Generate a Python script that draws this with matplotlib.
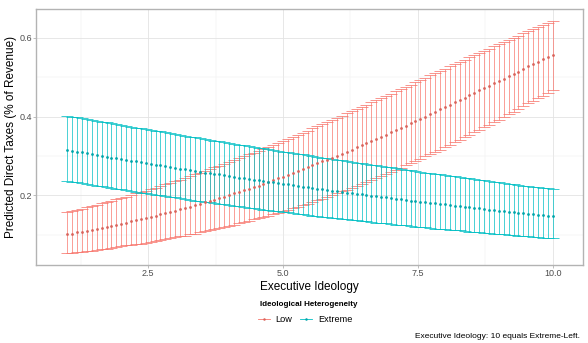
import numpy as np
import matplotlib
matplotlib.use("Agg")
import matplotlib.pyplot as plt
from matplotlib.lines import Line2D

plt.rcParams['font.family'] = ['Liberation Sans', 'DejaVu Sans']

# executive ideology grid (100 evaluation points between 1 and 10)
ideology = np.linspace(1, 10, 100)

low_mean = [
    0.101, 0.103, 0.106, 0.108, 0.110, 0.113, 0.115, 0.118, 0.120, 0.123,
    0.125, 0.128, 0.131, 0.134, 0.137, 0.139, 0.142, 0.145, 0.148, 0.152,
    0.155, 0.158, 0.161, 0.165, 0.168, 0.171, 0.175, 0.178, 0.182, 0.186,
    0.189, 0.193, 0.197, 0.201, 0.205, 0.209, 0.213, 0.217, 0.221, 0.225,
    0.230, 0.234, 0.238, 0.243, 0.247, 0.252, 0.257, 0.261, 0.266, 0.271,
    0.276, 0.281, 0.286, 0.290, 0.296, 0.301, 0.306, 0.311, 0.316, 0.322,
    0.327, 0.332, 0.338, 0.343, 0.349, 0.354, 0.360, 0.366, 0.371, 0.377,
    0.383, 0.389, 0.394, 0.400, 0.406, 0.412, 0.418, 0.424, 0.430, 0.436,
    0.442, 0.448, 0.454, 0.460, 0.466, 0.472, 0.478, 0.484, 0.490, 0.496,
    0.502, 0.508, 0.514, 0.521, 0.527, 0.533, 0.539, 0.545, 0.551, 0.557]
low_upper = [
    0.157, 0.160, 0.163, 0.166, 0.170, 0.173, 0.176, 0.180, 0.183, 0.186,
    0.190, 0.194, 0.197, 0.201, 0.205, 0.208, 0.212, 0.216, 0.220, 0.224,
    0.228, 0.232, 0.236, 0.240, 0.244, 0.249, 0.253, 0.257, 0.262, 0.266,
    0.271, 0.275, 0.280, 0.284, 0.289, 0.294, 0.299, 0.304, 0.308, 0.313,
    0.318, 0.323, 0.328, 0.333, 0.338, 0.344, 0.349, 0.354, 0.359, 0.364,
    0.370, 0.375, 0.381, 0.386, 0.391, 0.397, 0.402, 0.408, 0.413, 0.419,
    0.424, 0.430, 0.436, 0.441, 0.447, 0.453, 0.458, 0.464, 0.470, 0.476,
    0.481, 0.487, 0.493, 0.498, 0.504, 0.510, 0.516, 0.521, 0.527, 0.533,
    0.538, 0.544, 0.550, 0.555, 0.561, 0.567, 0.572, 0.578, 0.583, 0.589,
    0.595, 0.600, 0.605, 0.611, 0.616, 0.622, 0.627, 0.633, 0.638, 0.643]
low_lower = [
    0.053, 0.054, 0.056, 0.057, 0.059, 0.060, 0.062, 0.064, 0.065, 0.067,
    0.069, 0.071, 0.073, 0.074, 0.076, 0.078, 0.080, 0.082, 0.085, 0.087,
    0.089, 0.091, 0.094, 0.096, 0.098, 0.101, 0.103, 0.106, 0.109, 0.111,
    0.114, 0.117, 0.120, 0.123, 0.126, 0.129, 0.132, 0.135, 0.139, 0.142,
    0.145, 0.149, 0.152, 0.156, 0.160, 0.164, 0.167, 0.171, 0.175, 0.179,
    0.183, 0.188, 0.192, 0.196, 0.201, 0.205, 0.210, 0.214, 0.219, 0.224,
    0.229, 0.234, 0.239, 0.244, 0.249, 0.254, 0.259, 0.265, 0.270, 0.276,
    0.281, 0.287, 0.293, 0.299, 0.304, 0.310, 0.316, 0.322, 0.328, 0.335,
    0.341, 0.347, 0.353, 0.360, 0.366, 0.373, 0.379, 0.386, 0.392, 0.399,
    0.406, 0.412, 0.419, 0.426, 0.433, 0.439, 0.446, 0.453, 0.460, 0.467]

extreme_mean = [
    0.315, 0.313, 0.311, 0.309, 0.307, 0.304, 0.302, 0.300, 0.298, 0.296,
    0.294, 0.292, 0.290, 0.288, 0.286, 0.284, 0.282, 0.280, 0.278, 0.276,
    0.274, 0.272, 0.270, 0.268, 0.266, 0.264, 0.262, 0.260, 0.258, 0.257,
    0.255, 0.253, 0.251, 0.249, 0.247, 0.245, 0.244, 0.242, 0.240, 0.238,
    0.236, 0.235, 0.233, 0.231, 0.229, 0.228, 0.226, 0.224, 0.222, 0.221,
    0.219, 0.217, 0.216, 0.214, 0.212, 0.211, 0.209, 0.207, 0.206, 0.204,
    0.203, 0.201, 0.199, 0.198, 0.196, 0.195, 0.193, 0.192, 0.190, 0.189,
    0.187, 0.185, 0.184, 0.183, 0.181, 0.180, 0.178, 0.177, 0.175, 0.174,
    0.172, 0.171, 0.170, 0.168, 0.167, 0.165, 0.164, 0.163, 0.161, 0.160,
    0.159, 0.157, 0.156, 0.155, 0.154, 0.152, 0.151, 0.150, 0.148, 0.147]
extreme_upper = [
    0.402, 0.400, 0.398, 0.396, 0.393, 0.391, 0.389, 0.387, 0.385, 0.383,
    0.381, 0.378, 0.376, 0.374, 0.372, 0.370, 0.368, 0.366, 0.364, 0.362,
    0.360, 0.358, 0.355, 0.353, 0.351, 0.349, 0.347, 0.345, 0.343, 0.341,
    0.339, 0.337, 0.335, 0.333, 0.331, 0.329, 0.327, 0.325, 0.323, 0.321,
    0.319, 0.317, 0.315, 0.313, 0.311, 0.310, 0.308, 0.306, 0.304, 0.302,
    0.300, 0.298, 0.296, 0.294, 0.292, 0.291, 0.289, 0.287, 0.285, 0.283,
    0.281, 0.280, 0.278, 0.276, 0.274, 0.272, 0.271, 0.269, 0.267, 0.265,
    0.264, 0.262, 0.260, 0.258, 0.257, 0.255, 0.253, 0.252, 0.250, 0.248,
    0.246, 0.245, 0.243, 0.241, 0.240, 0.238, 0.237, 0.235, 0.233, 0.232,
    0.230, 0.229, 0.227, 0.225, 0.224, 0.222, 0.221, 0.219, 0.218, 0.216]
extreme_lower = [
    0.237, 0.235, 0.233, 0.231, 0.229, 0.227, 0.225, 0.223, 0.221, 0.219,
    0.217, 0.215, 0.213, 0.211, 0.209, 0.207, 0.206, 0.204, 0.202, 0.200,
    0.198, 0.196, 0.195, 0.193, 0.191, 0.189, 0.187, 0.186, 0.184, 0.182,
    0.181, 0.179, 0.177, 0.176, 0.174, 0.172, 0.171, 0.169, 0.167, 0.166,
    0.164, 0.163, 0.161, 0.160, 0.158, 0.157, 0.155, 0.154, 0.152, 0.151,
    0.149, 0.148, 0.146, 0.145, 0.143, 0.142, 0.141, 0.139, 0.138, 0.137,
    0.135, 0.134, 0.133, 0.131, 0.130, 0.129, 0.127, 0.126, 0.125, 0.124,
    0.122, 0.121, 0.120, 0.119, 0.118, 0.116, 0.115, 0.114, 0.113, 0.112,
    0.111, 0.109, 0.108, 0.107, 0.106, 0.105, 0.104, 0.103, 0.102, 0.101,
    0.100, 0.099, 0.098, 0.097, 0.096, 0.095, 0.094, 0.093, 0.092, 0.091]

group_labels = ["Low", "Extreme"]
x_ticks = [2.5, 5.0, 7.5, 10.0]
y_ticks = [0.2, 0.4, 0.6]

colors = {"Low": "#F8766D", "Extreme": "#00BFC4"}
dot_colors = {"Low": "#D9645C", "Extreme": "#00A5AA"}
series = {
    "Low": (low_mean, low_lower, low_upper),
    "Extreme": (extreme_mean, extreme_lower, extreme_upper),
}

fig = plt.figure(figsize=(5.88, 3.43), dpi=100)
ax = fig.add_axes([36 / 588, 1 - 265 / 343, (583 - 36) / 588, (265 - 9) / 343])

for name in group_labels:
    mean, lower, upper = (np.array(v) for v in series[name])
    c = colors[name]
    ax.errorbar(ideology, mean, yerr=[mean - lower, upper - mean], fmt='none',
                ecolor=c, elinewidth=0.55, capsize=4.2, capthick=0.6,
                alpha=0.9, zorder=3)
    ax.plot(ideology, mean, 'o', ms=2.0, mew=0, color=dot_colors[name], zorder=4)

ax.set_xlim(0.42, 10.56)
ax.set_ylim(0.0235, 0.6726)
ax.set_xticks(x_ticks)
ax.set_xticklabels(["2.5", "5.0", "7.5", "10.0"])
ax.set_yticks(y_ticks)
ax.set_yticklabels(["0.2", "0.4", "0.6"])
ax.set_xticks([1.25, 3.75, 6.25, 8.75], minor=True)
ax.set_yticks([0.1, 0.3, 0.5], minor=True)
ax.grid(which='major', color='#E3E3E3', lw=0.6, zorder=0)
ax.grid(which='minor', color='#EEEEEE', lw=0.35, zorder=0)
ax.set_axisbelow(True)
ax.tick_params(which='major', length=2.0, width=0.6, color='#B3B3B3',
               labelsize=6.5, labelcolor='#4D4D4D', pad=0.8)
ax.tick_params(which='minor', length=0)
for s in ax.spines.values():
    s.set_color('#B3B3B3')
    s.set_linewidth(1.0)

ax.set_xlabel("Executive Ideology", fontsize=8.5, labelpad=2)
ax.set_ylabel("Predicted Direct Taxes (% of Revenue)", fontsize=8.5)
ax.yaxis.set_label_coords((17 - 36) / 547, 0.5)

# legend: bold title on its own line, keys underneath
fig.text(260 / 588, 1 - 305 / 343, "Ideological Heterogeneity",
         ha='left', va='center', fontsize=5.8, fontweight='bold')
handles = [Line2D([], [], color=colors[n], lw=0.6, marker='o', ms=1.8, mew=0,
                  markerfacecolor=dot_colors[n])
           for n in group_labels]
fig.legend(handles, group_labels, loc='center left',
           bbox_to_anchor=(256 / 588, 1 - 320 / 343), ncol=2,
           frameon=False, fontsize=6.6, handlelength=1.3, columnspacing=0.9,
           handletextpad=0.6, borderpad=0.2, borderaxespad=0)

fig.text(580 / 588, 1 - 337 / 343, "Executive Ideology: 10 equals Extreme-Left.",
         ha='right', va='center', fontsize=6)

fig.savefig("out.png", dpi=100)
